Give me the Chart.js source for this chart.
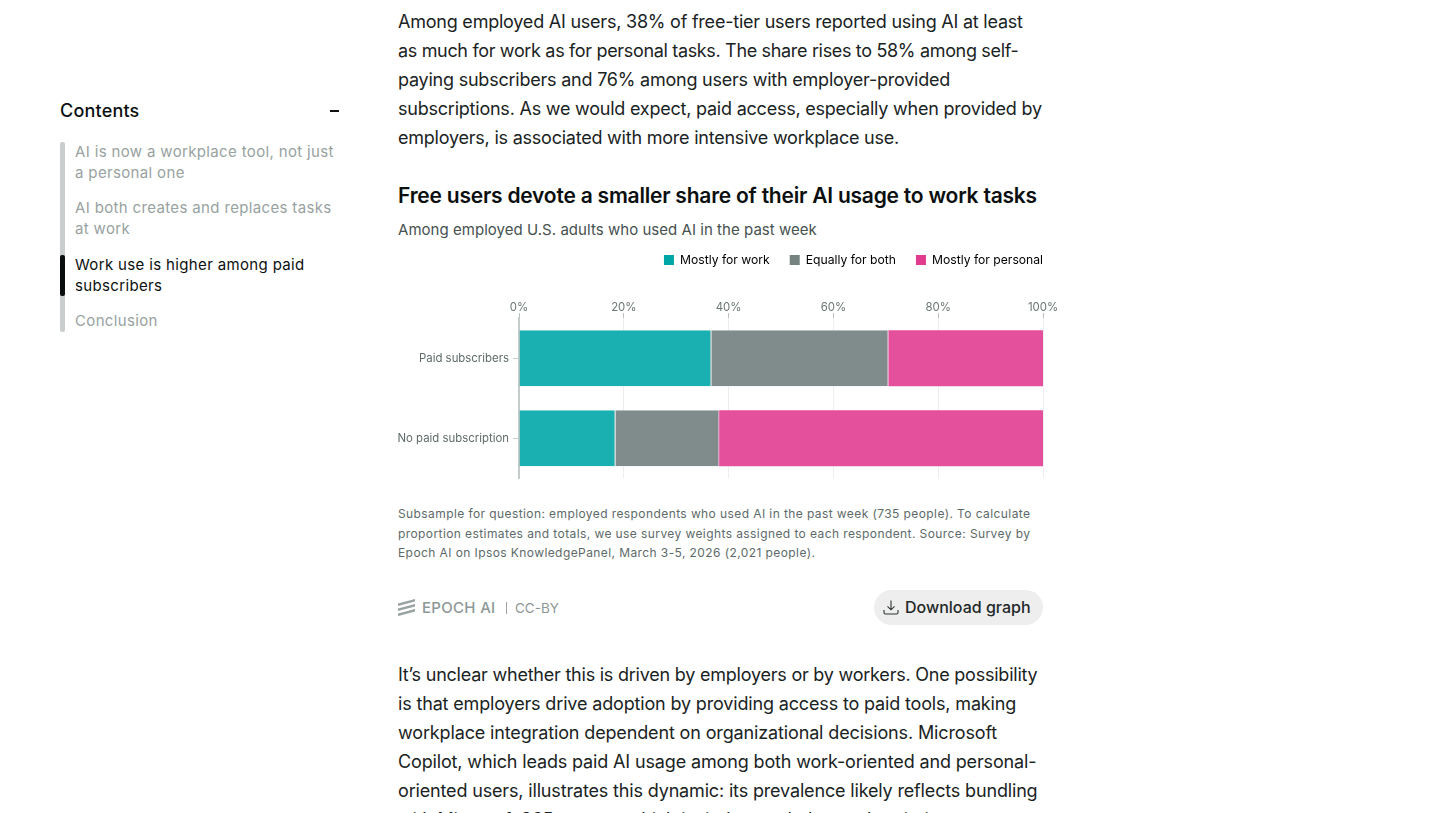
<!DOCTYPE html>
<html><head><meta charset="utf-8"><title>Free users devote a smaller share</title>
<script src="https://cdn.jsdelivr.net/npm/chart.js@4"></script>
<style>
html,body{margin:0;padding:0;background:#fff;width:1440px;height:813px;overflow:hidden;font-family:Inter,sans-serif;}
.t{position:absolute;white-space:nowrap;}
.body{left:398px;font-size:18px;line-height:29px;color:#1a2323;letter-spacing:-0.225px;}
.toc{left:75px;font-size:15px;line-height:21px;color:#98a2a1;letter-spacing:0.35px;}
#chartBox{position:absolute;left:390px;top:245px;width:680px;height:244px;}
.foot{left:398px;font-size:12px;line-height:19.5px;color:#5d6a69;letter-spacing:0.41px;}
</style></head><body>
<div class="t" style="left:60px;top:100px;font-size:18px;line-height:22px;color:#0b0f0f;font-weight:500;letter-spacing:0.2px">Contents</div>
<div style="position:absolute;left:330px;top:110px;width:9px;height:2px;background:#111"></div>
<div style="position:absolute;left:60px;top:142px;width:5px;height:190px;background:#c9cdcd;border-radius:2px"></div>
<div style="position:absolute;left:60px;top:255px;width:5px;height:41px;background:#0a0d0d;border-radius:2px"></div>
<div class="t toc" style="top:141px">AI is now a workplace tool, not just<br>a personal one</div>
<div class="t toc" style="top:197px">AI both creates and replaces tasks<br>at work</div>
<div class="t toc" style="top:254px;color:#0b0f0f">Work use is higher among paid<br>subscribers</div>
<div class="t toc" style="top:310px">Conclusion</div>

<div class="t body" style="top:7px">Among employed AI users, 38% of free-tier users reported using AI at least<br><span style="letter-spacing:-0.333px">as much for work as for personal tasks. The share rises to 58% among self-</span><br>paying subscribers and 76% among users with employer-provided<br>subscriptions. As we would expect, paid access, especially when provided by<br>employers, is associated with more intensive workplace use.</div>
<div class="t" style="left:398px;top:182px;font-size:21px;line-height:28px;font-weight:600;color:#0b0f0f;letter-spacing:-0.22px">Free users devote a smaller share of their AI usage to work tasks</div>
<div class="t" style="left:398px;top:220px;font-size:15px;line-height:20px;color:#465150;letter-spacing:0.04px">Among employed U.S. adults who used AI in the past week</div>
<div id="chartBox"><canvas id="c" width="680" height="244"></canvas></div>
<div class="t foot" style="top:504px">Subsample for question: employed respondents who used AI in the past week (735 people). To calculate<br>proportion estimates and totals, we use survey weights assigned to each respondent. Source: Survey by<br>Epoch AI on Ipsos KnowledgePanel, March 3-5, 2026 (2,021 people).</div>
<svg style="position:absolute;left:398px;top:599px" width="18" height="17" viewBox="0 0 18 17"><g fill="#98a2a1"><path d="M0 4.5 17 0v2.6L0 7.1z"/><path d="M0 9.5 17 5v2.6L0 12.1z"/><path d="M0 14.5 17 10v2.6L0 17.1z"/></g></svg>
<div class="t" style="left:422px;top:598px;font-size:15px;line-height:20px;font-weight:500;color:#8e9897;letter-spacing:0.3px">EPOCH AI</div>
<div style="position:absolute;left:506px;top:602px;width:1px;height:12px;background:#9aa3a2"></div>
<div class="t" style="left:515px;top:598px;font-size:13.5px;line-height:20px;color:#8e9897">CC-BY</div>
<div style="position:absolute;left:874px;top:590px;width:169px;height:35px;background:#eeeeee;border-radius:18px"></div>
<svg style="position:absolute;left:883px;top:600px" width="16" height="15" viewBox="0 0 16 15" fill="none" stroke="#2a3333" stroke-width="1.1"><path d="M8 0.5v9M4.5 6.3 8 9.8l3.5-3.5M1 10v2.5q0 1.5 1.5 1.5h11q1.5 0 1.5-1.5V10"/></svg>
<div class="t" style="left:905px;top:597px;font-size:16px;line-height:21px;font-weight:500;color:#1f2828">Download graph</div>

<div class="t body" style="top:660px">It’s unclear whether this is driven by employers or by workers. One possibility<br><span style="letter-spacing:-0.157px">is that employers drive adoption by providing access to paid tools, making</span><br><span style="letter-spacing:-0.14px">workplace integration dependent on organizational decisions. Microsoft</span><br><span style="letter-spacing:-0.143px">Copilot, which leads paid AI usage among both work-oriented and personal-</span><br><span style="letter-spacing:-0.16px">oriented users, illustrates this dynamic: its prevalence likely reflects bundling</span><br>with Microsoft 365 access, which is tied to workplace subscriptions.</div>

<script>
const categories = ["Paid subscribers", "No paid subscription"];
const seriesNames = ["Mostly for work", "Equally for both", "Mostly for personal"];
const mostlyWork = [36.7, 18.4];
const equallyBoth = [33.8, 19.8];
const mostlyPersonal = [29.5, 61.8];
const barColors = ["#1ab0b1", "#808c8b", "#e5509d"];
const seamColors = ["#a8bcbc", "#cfa3ba", "#e5509d"];
const legendColors = ["#00a5a6", "#76827f", "#e13b8e"];
const tickValues = [0, 20, 40, 60, 80, 100];

const seriesValues = [mostlyWork, equallyBoth, mostlyPersonal];
new Chart(document.getElementById("c"), {
  type: "bar",
  data: {
    labels: categories,
    datasets: seriesNames.map((n, i) => ({
      label: n, data: seriesValues[i], backgroundColor: barColors[i],
      categoryPercentage: 0.7, barPercentage: 1,
      borderColor: seamColors[i], borderSkipped: false,
      borderWidth: { top: 0, left: 0, bottom: 0, right: i < 2 ? 1 : 0 }
    }))
  },
  options: {
    indexAxis: "y", responsive: false, animation: false,
    devicePixelRatio: 1,
    layout: { padding: { right: 27, bottom: 7, left: 0, top: 3 } },
    plugins: {
      tooltip: { enabled: false },
      legend: {
        position: "top", align: "end",
        labels: {
          boxWidth: 10, boxHeight: 10, padding: 20,
          color: "#1c2525", font: { family: "Inter", size: 12.15 },
          generateLabels: () => seriesNames.map((n, i) => ({
            text: n, fillStyle: legendColors[i], strokeStyle: legendColors[i], lineWidth: 0, datasetIndex: i
          }))
        }
      }
    },
    scales: {
      x: {
        position: "top", stacked: true, min: 0, max: 100,
        afterBuildTicks: s => { s.ticks = tickValues.map(v => ({ value: v })); },
        afterFit: s => { s.height = 28; },
        border: { display: false },
        grid: { color: "#eeeeee", tickColor: "#b9bebe", tickLength: 5, lineWidth: 1 },
        ticks: { padding: -1, maxRotation: 0, color: "#6b7675", font: { family: "Inter", size: 11.4 }, callback: v => v + "%" }
      },
      y: {
        stacked: true,
        afterFit: s => { s.width = 129; },
        border: { display: true, color: "#c6cbcb", width: 2 },
        grid: { offset: false, drawOnChartArea: false, tickColor: "#c6cbcb", tickLength: 6 },
        ticks: { padding: 4, color: "#5f6b6a", font: { family: "Inter", size: 11.4 } }
      }
    }
  },
  plugins: [{
    id: "legendFlushRight",
    beforeDraw(chart) {
      chart.legend.right = chart.chartArea.right + 20;
      chart.legend.top = -11;
    }
  }]
});
</script>
</body></html>
